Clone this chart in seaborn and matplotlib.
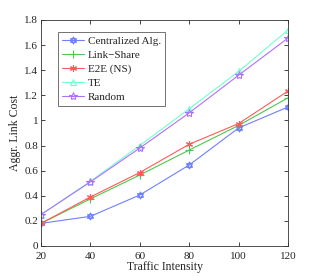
import pandas as pd
import seaborn as sns
import matplotlib.pyplot as plt
from matplotlib.path import Path

traffic = [20, 40, 60, 80, 100, 120]
centralized = [0.18, 0.236, 0.406, 0.645, 0.94, 1.107]
link_share = [0.18, 0.375, 0.565, 0.764, 0.96, 1.18]
e2e = [0.18, 0.39, 0.585, 0.81, 0.975, 1.234]
te = [0.25, 0.515, 0.80, 1.093, 1.39, 1.72]
rand = [0.25, 0.51, 0.78, 1.06, 1.36, 1.656]

# hexagram marker (two overlapping triangles), like MATLAB's 'h'
up = [(0, 1), (-0.866, -0.5), (0.866, -0.5), (0, 1)]
down = [(0, -1), (-0.866, 0.5), (0.866, 0.5), (0, -1)]
hexagram = Path(up + down, [Path.MOVETO, Path.LINETO, Path.LINETO, Path.CLOSEPOLY] * 2)

series = [
    ("Centralized Alg.", centralized, "#6f80ff", hexagram, 5),
    ("Link\u2212Share", link_share, "#4cc84c", "+", 5.5),
    ("E2E (NS)", e2e, "#ff5a5a", (6, 2, 0), 5),
    ("TE", te, "#70ffd0", "^", 5),
    ("Random", rand, "#b070ff", "*", 6),
]

sns.set_theme(style="ticks")
plt.rcParams["font.family"] = ["Liberation Serif", "DejaVu Serif"]
plt.rcParams["xtick.direction"] = "in"
plt.rcParams["ytick.direction"] = "in"

fig = plt.figure(figsize=(3.19, 2.77), dpi=100)
ax = fig.add_axes([0.1285, 0.112, 0.7745, 0.816])

for name, vals, color, mk, ms in series:
    df = pd.DataFrame({"x": traffic, "y": vals})
    sns.lineplot(data=df, x="x", y="y", ax=ax, color=color, lw=0.8,
                 marker=mk, markersize=ms, markerfacecolor="none",
                 markeredgecolor=color, markeredgewidth=0.8, label=name)

ax.set_xlim(20, 120)
ax.set_ylim(0, 1.8)
ax.set_xticks(traffic)
ax.set_yticks([0, 0.2, 0.4, 0.6, 0.8, 1, 1.2, 1.4, 1.6, 1.8])
ax.set_yticklabels(["0", "0.2", "0.4", "0.6", "0.8", "1", "1.2", "1.4", "1.6", "1.8"])
ax.tick_params(labelsize=8, length=3, width=0.6, top=True, right=True)
ax.tick_params(axis="x", pad=4)
ax.tick_params(axis="y", pad=2)
for s in ax.spines.values():
    s.set_linewidth(0.6)
    s.set_color("#333333")
ax.set_xlabel("Traffic Intensity", fontsize=8.5, labelpad=0)
ax.set_ylabel("Aggr. Link Cost", fontsize=8.5, labelpad=2)

leg = ax.legend(loc="upper left", bbox_to_anchor=(0.07, 0.945), fontsize=8,
                frameon=True, fancybox=False, edgecolor="#333333",
                borderpad=0.35, labelspacing=0.38, handlelength=2.0,
                handletextpad=0.3, borderaxespad=0)
leg.get_frame().set_linewidth(0.6)

fig.savefig("out.png", dpi=100)
